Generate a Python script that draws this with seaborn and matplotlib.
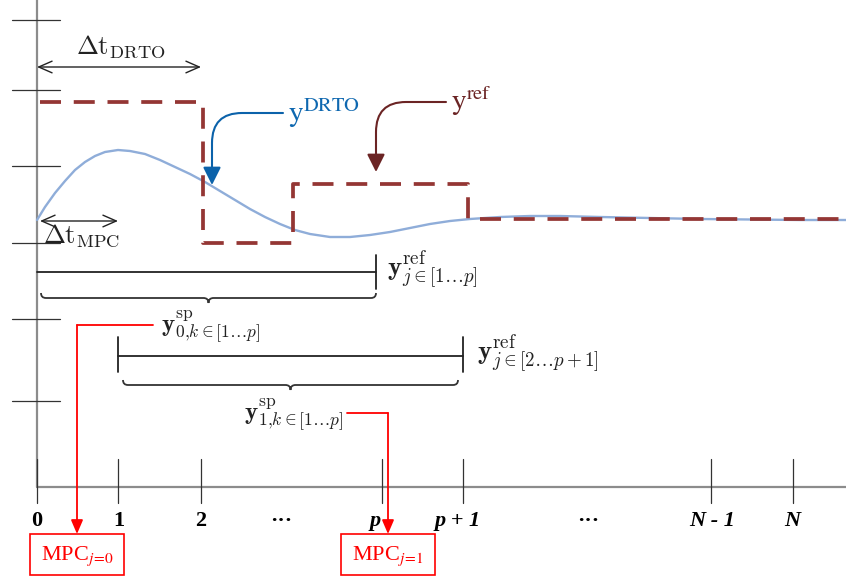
import numpy as np
import pandas as pd
import matplotlib
matplotlib.use("Agg")
import matplotlib.pyplot as plt
import seaborn as sns
from matplotlib.path import Path
from matplotlib.patches import PathPatch, Rectangle

sns.set_theme(style="white")
plt.rcParams['font.family'] = ['Liberation Serif', 'DejaVu Sans']
plt.rcParams['mathtext.fontset'] = 'cm'

# ---------------- data (diagram coordinates, pixel-like, y downwards) -------------
tick_x = [37, 118, 201, 382, 463, 711, 793]
tick_labels = ["0", "1", "2", "···", "p", "p + 1", "···", "N - 1", "N"]
label_x = [37, 119, 201, 281, 375, 458, 588, 712, 792]
label_italic = [False, False, False, False, True, True, False, True, True]
ytick_y = [20, 90, 166, 243, 319, 401]

# DRTO trajectory
curve_x = [37, 45, 55, 65, 75, 85, 95, 105, 118, 130, 145, 160, 175, 190, 205, 220, 235,
           250, 265, 280, 295, 310, 330, 350, 370, 390, 410, 430, 450, 470, 500, 530,
           560, 600, 650, 700, 750, 800, 846]
curve_y = [220, 207, 193, 181, 170, 162, 156, 152, 150, 151, 154, 160, 167, 174, 182, 191, 200,
           209, 217, 224, 230, 234, 237, 237, 235, 232, 228, 224, 221, 219, 217, 216,
           216, 217, 218, 219, 219.5, 220, 220]

# reference steps
ref_x = [40, 203, 203, 293, 293, 468, 468, 846]
ref_y = [102, 102, 243, 243, 184, 184, 219, 219]

fig = plt.figure(figsize=(8.46, 5.81), dpi=100)
ax = fig.add_axes([0, 0, 1, 1])

# axes
ax.plot([37, 37], [0, 487], color="#8c8c8c", lw=1.6)
ax.plot([37, 846], [487, 487], color="#8c8c8c", lw=1.6)
for yy in ytick_y:
    ax.plot([12, 60], [yy, yy], color="#333333", lw=0.9)
for xx in tick_x:
    ax.plot([xx, xx], [459, 503], color="#333333", lw=0.9)

for lx, lab, it in zip(label_x, tick_labels, label_italic):
    ax.text(lx, 521, lab, ha="center", va="center", fontsize=16, fontweight="bold",
            fontstyle="italic" if it else "normal", color="black")

# curves
df_curve = pd.DataFrame({"x": curve_x, "y": curve_y})
sns.lineplot(data=df_curve, x="x", y="y", ax=ax, color="#8fadd9", lw=1.7,
             sort=False, estimator=None)
df_ref = pd.DataFrame({"x": ref_x, "y": ref_y})
sns.lineplot(data=df_ref, x="x", y="y", ax=ax, color="#943634", lw=2.7,
             sort=False, estimator=None, linestyle=(0, (5.6, 3.4)))
ax.set_xlim(0, 846)
ax.set_ylim(581, 0)
ax.set_axis_off()

# delta t arrows
ax.annotate("", xy=(201, 67), xytext=(37, 67),
            arrowprops=dict(arrowstyle="<->,head_length=0.8,head_width=0.35",
                            color="#222222", lw=1, shrinkA=0, shrinkB=0))
ax.text(121, 47, r"$\Delta\mathrm{t}_{\mathrm{DRTO}}$", ha="center", va="center",
        fontsize=19, color="#222222")
ax.annotate("", xy=(118, 221), xytext=(40, 221),
            arrowprops=dict(arrowstyle="<->,head_length=0.8,head_width=0.35",
                            color="#222222", lw=1, shrinkA=0, shrinkB=0))
ax.text(82, 236, r"$\Delta\mathrm{t}_{\mathrm{MPC}}$", ha="center", va="center",
        fontsize=19, color="#222222")

# labels with curved arrows
ax.text(288, 113, r"$\mathrm{y}^{\mathrm{DRTO}}$", ha="left", va="center",
        fontsize=21, color="#0f68b0", math_fontfamily="stix")
ax.annotate("", xy=(212, 185), xytext=(283, 113),
            arrowprops=dict(arrowstyle="-|>,head_length=0.9,head_width=0.45",
                            connectionstyle="angle,angleA=180,angleB=90,rad=30",
                            color="#0b62aa", lw=1.5, shrinkA=0, shrinkB=0))
ax.text(451, 101, r"$\mathrm{y}^{\mathrm{ref}}$", ha="left", va="center",
        fontsize=21, color="#6b2424", math_fontfamily="stix")
ax.annotate("", xy=(376, 172), xytext=(446, 102),
            arrowprops=dict(arrowstyle="-|>,head_length=0.9,head_width=0.45",
                            connectionstyle="angle,angleA=180,angleB=90,rad=30",
                            color="#6b2424", lw=1.5, shrinkA=0, shrinkB=0))


def brace(x0, x1, y, d=5, color="#333333"):
    xm = (x0 + x1) / 2
    verts = [(x0, y - d), (x0, y), (x0 + d, y),
             (xm - d, y), (xm, y), (xm, y + d),
             (xm, y), (xm + d, y),
             (x1 - d, y), (x1, y), (x1, y - d)]
    codes = [Path.MOVETO, Path.CURVE3, Path.CURVE3,
             Path.LINETO, Path.CURVE3, Path.CURVE3,
             Path.CURVE3, Path.CURVE3,
             Path.LINETO, Path.CURVE3, Path.CURVE3]
    ax.add_patch(PathPatch(Path(verts, codes), fill=False, edgecolor=color, lw=1.3))


# first horizon bracket
ax.plot([37, 376], [272, 272], color="#222222", lw=1.3)
ax.plot([376, 376], [255, 289], color="#222222", lw=1.3)
ax.text(387, 270, r"$\mathbf{y}^{\mathrm{ref}}_{j\in[1\ldots p]}$", ha="left", va="center",
        fontsize=19.5, color="#222222")
brace(41, 376, 298)

# second horizon bracket
ax.plot([118, 463], [356, 356], color="#222222", lw=1.3)
ax.plot([118, 118], [337, 372], color="#222222", lw=1.3)
ax.plot([463, 463], [337, 372], color="#222222", lw=1.3)
ax.text(477, 354, r"$\mathbf{y}^{\mathrm{ref}}_{j\in[2\ldots p+1]}$", ha="left", va="center",
        fontsize=19.5, color="#222222")
brace(123, 458, 385)

# setpoint labels and red connectors
ax.text(161, 327, r"$\mathbf{y}^{\mathrm{sp}}_{0{,}k\in[1\ldots p]}$", ha="left", va="center",
        fontsize=18, color="#222222")
ax.plot([153, 77], [325, 325], color="red", lw=1.3)
ax.annotate("", xy=(77, 534), xytext=(77, 325),
            arrowprops=dict(arrowstyle="-|>,head_length=0.7,head_width=0.3",
                            color="red", lw=1.3, shrinkA=0, shrinkB=0))
ax.text(244, 415, r"$\mathbf{y}^{\mathrm{sp}}_{1{,}k\in[1\ldots p]}$", ha="left", va="center",
        fontsize=18, color="#222222")
ax.plot([347, 388], [413, 413], color="red", lw=1.3)
ax.annotate("", xy=(388, 534), xytext=(388, 413),
            arrowprops=dict(arrowstyle="-|>,head_length=0.7,head_width=0.3",
                            color="red", lw=1.3, shrinkA=0, shrinkB=0))

# MPC boxes
for bx, lab in [(30, r"MPC$_{j\!=\!0}$"), (341, r"MPC$_{j\!=\!1}$")]:
    ax.add_patch(Rectangle((bx, 534), 94, 41, fill=False, edgecolor="red", lw=1.2))
    ax.text(bx + 47, 556, lab, ha="center", va="center", fontsize=16, color="red",
            math_fontfamily="stix")

fig.savefig("out.png", dpi=100)
